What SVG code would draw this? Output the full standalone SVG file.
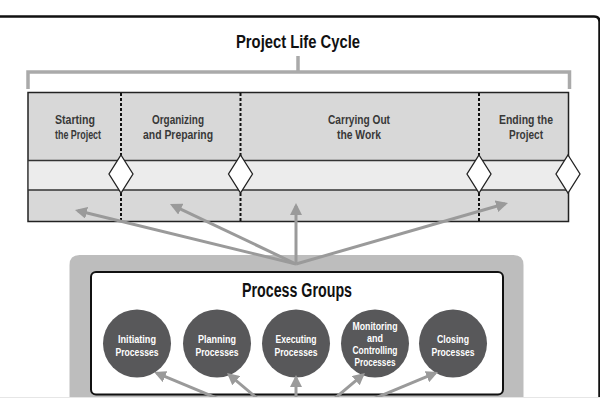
<svg xmlns="http://www.w3.org/2000/svg" width="600" height="400" viewBox="0 0 600 400">
<defs>
<style>
.t{font-family:"Liberation Sans",Arial,sans-serif;font-weight:bold;text-anchor:middle}
.ttl{font-size:18.5px;fill:#111}
.ph{font-size:12px;fill:#383838}
.cl{font-size:11.5px;fill:#fff}
.dot{stroke:#111;stroke-width:2;stroke-dasharray:3 2}
.dia{fill:#fff;stroke:#222;stroke-width:1.3}
.circ{fill:#58585a}
.conn{stroke:#9a9a9a;stroke-width:3;fill:none;marker-end:url(#ah)}
</style>
<marker id="ah" viewBox="0 0 12 12" refX="9" refY="6" markerWidth="12" markerHeight="12" markerUnits="userSpaceOnUse" orient="auto"><path d="M0,0 L12,6 L0,12 z" fill="#9a9a9a"/></marker>
</defs>
<rect width="600" height="400" fill="#fff"/>
<path d="M0,16.5 H594 Q599.5,16.5 599.5,22 V400" fill="none" stroke="#111" stroke-width="2.5"/>

<g id="life-cycle-title">
<text class="t ttl" x="298" y="48" textLength="124" lengthAdjust="spacingAndGlyphs">Project Life Cycle</text>
<path d="M28,89 V72 H569.5 V89 M298,56 V72" fill="none" stroke="#aaa" stroke-width="3.5"/>
</g>

<g id="phase-table">
<rect x="28" y="92.5" width="540.5" height="129" fill="#d8d8d8" stroke="#222" stroke-width="1.5"/>
<rect x="28.8" y="160.5" width="539" height="29.5" fill="#ececec"/>
<path d="M28,160.5 H568.5 M28,190 H568.5" stroke="#333" stroke-width="1.5"/>
<path class="dot" d="M121,93 V221 M240.5,93 V221 M479,93 V221"/>
</g>

<g id="phase-starting">
<text class="t ph" x="75" y="124" textLength="40" lengthAdjust="spacingAndGlyphs">Starting</text>
<text class="t ph" x="78" y="138.5" textLength="46" lengthAdjust="spacingAndGlyphs">the Project</text>
</g>
<g id="phase-organizing">
<text class="t ph" x="178" y="124" textLength="52" lengthAdjust="spacingAndGlyphs">Organizing</text>
<text class="t ph" x="178" y="138.5" textLength="70" lengthAdjust="spacingAndGlyphs">and Preparing</text>
</g>
<g id="phase-carrying">
<text class="t ph" x="359" y="124" textLength="62" lengthAdjust="spacingAndGlyphs">Carrying Out</text>
<text class="t ph" x="359" y="138.5" textLength="44" lengthAdjust="spacingAndGlyphs">the Work</text>
</g>
<g id="phase-ending">
<text class="t ph" x="526" y="124" textLength="54" lengthAdjust="spacingAndGlyphs">Ending the</text>
<text class="t ph" x="526" y="138.5" textLength="34" lengthAdjust="spacingAndGlyphs">Project</text>
</g>

<g id="milestones">
<path class="dia" d="M121,155 L133,174 L121,193 L109,174 Z"/>
<path class="dia" d="M240.5,155 L252.5,174 L240.5,193 L228.5,174 Z"/>
<path class="dia" d="M479,155 L491,174 L479,193 L467,174 Z"/>
<path class="dia" d="M568,155 L580,174 L568,193 L556,174 Z"/>
</g>

<g id="process-groups">
<path d="M69.5,397 V265 Q69.5,255 79.5,255 H513.5 Q523.5,255 523.5,265 V397 Z" fill="#bdbdbd"/>
<rect x="91" y="272" width="412" height="122.5" rx="5" fill="#fff" stroke="#111" stroke-width="2"/>
<text class="t ttl" x="297" y="296.5" style="font-size:19.5px" textLength="110" lengthAdjust="spacingAndGlyphs">Process Groups</text>
</g>

<g id="initiating">
<circle class="circ" cx="137" cy="343.5" r="34"/>
<text class="t cl" x="137" y="343" textLength="38" lengthAdjust="spacingAndGlyphs">Initiating</text>
<text class="t cl" x="137" y="355.5" textLength="43" lengthAdjust="spacingAndGlyphs">Processes</text>
</g>
<g id="planning">
<circle class="circ" cx="217" cy="343.5" r="34"/>
<text class="t cl" x="217" y="343" textLength="38" lengthAdjust="spacingAndGlyphs">Planning</text>
<text class="t cl" x="217" y="355.5" textLength="43" lengthAdjust="spacingAndGlyphs">Processes</text>
</g>
<g id="executing">
<circle class="circ" cx="296" cy="343.5" r="34"/>
<text class="t cl" x="296" y="343" textLength="41" lengthAdjust="spacingAndGlyphs">Executing</text>
<text class="t cl" x="296" y="355.5" textLength="43" lengthAdjust="spacingAndGlyphs">Processes</text>
</g>
<g id="monitoring">
<circle class="circ" cx="375" cy="343.5" r="34"/>
<text class="t cl" x="375" y="330" textLength="45" lengthAdjust="spacingAndGlyphs">Monitoring</text>
<text class="t cl" x="375" y="342" textLength="16" lengthAdjust="spacingAndGlyphs">and</text>
<text class="t cl" x="375" y="354" textLength="45" lengthAdjust="spacingAndGlyphs">Controlling</text>
<text class="t cl" x="375" y="366" textLength="41" lengthAdjust="spacingAndGlyphs">Processes</text>
</g>
<g id="closing">
<circle class="circ" cx="453" cy="343.5" r="34"/>
<text class="t cl" x="453" y="343" textLength="32" lengthAdjust="spacingAndGlyphs">Closing</text>
<text class="t cl" x="453" y="355.5" textLength="43" lengthAdjust="spacingAndGlyphs">Processes</text>
</g>

<g id="connectors">
<path class="conn" d="M296,264 L77.9,210.7"/>
<path class="conn" d="M296,264 L172.7,205.3"/>
<path class="conn" d="M296,264 L296,206"/>
<path class="conn" d="M296,264 L505.1,203.8"/>
<path class="conn" d="M296,431 L156.8,373.2"/>
<path class="conn" d="M296,431 L229.3,374.9"/>
<path class="conn" d="M296,431 L296,378"/>
<path class="conn" d="M296,431 L362.7,374.9"/>
<path class="conn" d="M296,431 L435.2,373.2"/>
</g>

<rect x="0" y="397" width="600" height="3" fill="#fff"/>
<line x1="0" y1="397.5" x2="600" y2="397.5" stroke="#e6e6e6" stroke-width="1"/>
</svg>
